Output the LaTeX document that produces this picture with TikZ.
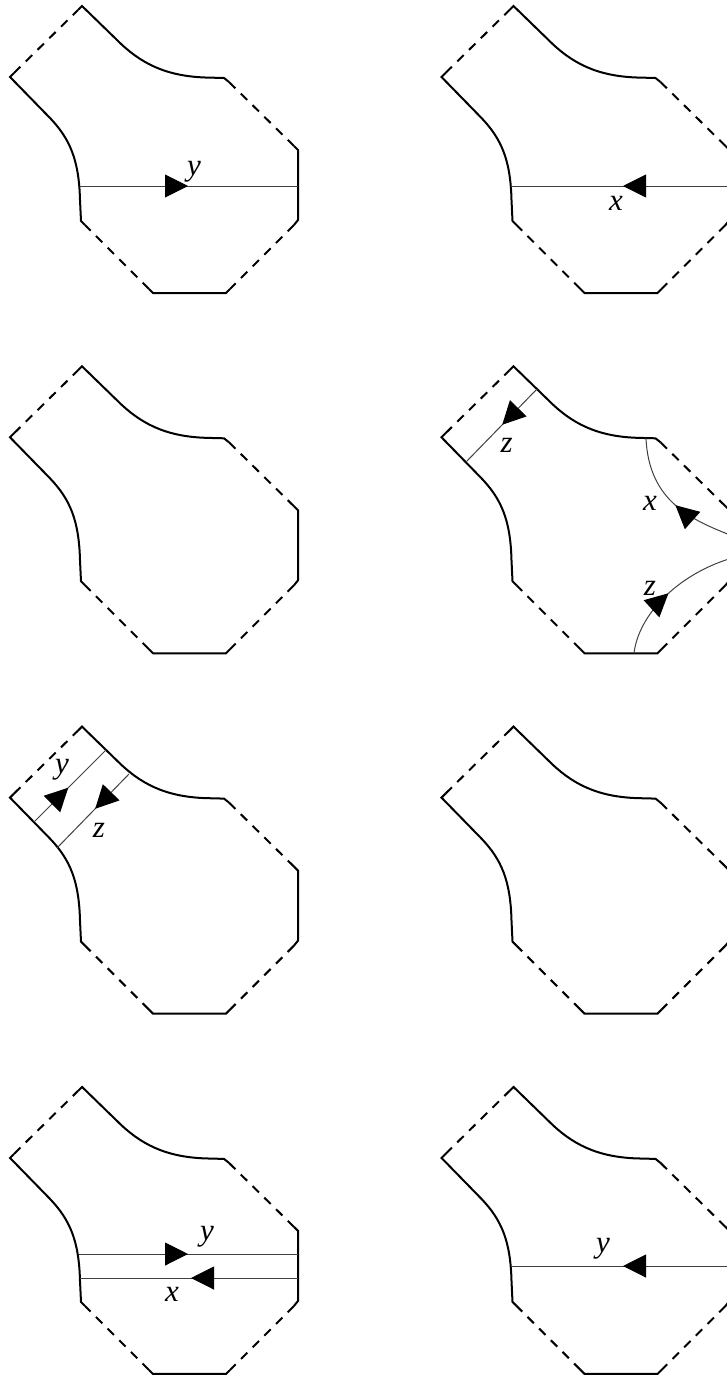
\documentclass[tikz,border=0pt]{standalone}
\usepackage{fontspec}
\setmainfont{Liberation Serif}
\newfontfamily\lblfont{Liberation Serif}
\usetikzlibrary{arrows.meta,decorations.markings}
\tikzset{
  bnd/.style={line width=2pt,line join=miter,black},
  dsh/.style={line width=2pt,black,dash pattern=on 9pt off 7.5pt},
  conn/.style={line width=1pt,black!75},
  arr/.style={postaction={decorate},decoration={markings,mark=at position #1 with {\arrow{Triangle[length=23pt,width=23pt,color=black,fill=black]}}}},
  lbl/.style={anchor=base,inner sep=0pt,font=\lblfont\fontsize{31}{34}\selectfont\itshape}
}
\newcommand{\drawoutline}{%
  \draw[bnd] (78,10) -- (82,6) -- (117,40) .. controls (140,63) and (165,76) .. (205,77.5) -- (224,78) -- (229,82);
  \draw[bnd] (294,146) -- (298,150) -- (298,220) -- (294,225);
  \draw[bnd] (230,289) -- (226,293) -- (153,293) -- (149,289);
  \draw[bnd] (85,225) -- (81,221) -- (80,200) .. controls (79,160) and (70,139) .. (50,118) -- (10,77) -- (14,73);
  \draw[dsh] (14,73) -- (78,10);
  \draw[dsh] (229,82) -- (294,146);
  \draw[dsh] (294,225) -- (230,289);
  \draw[dsh] (149,289) -- (85,225);
}
\begin{document}
\begin{tikzpicture}[x=1pt,y=-1pt]
\useasboundingbox (0,0) rectangle (726,1378);
% panel 1
\begin{scope}
  \drawoutline
  \coordinate (a1) at (79.7,186);
  \coordinate (b1) at (298,186);
  \draw[conn,arr=108.3pt] (a1) -- (b1);
  \node[lbl] (l1) at (194,175) {y};
\end{scope}
% panel 2
\begin{scope}[shift={(431.5,0)}]
  \drawoutline
  \coordinate (a2) at (298,186);
  \coordinate (b2) at (79.7,186);
  \draw[conn,arr=106.5pt] (a2) -- (b2);
  \node[lbl] (l2) at (184.5,210.5) {x};
\end{scope}
% panel 3
\begin{scope}[shift={(0,360.3)}]
  \drawoutline
\end{scope}
% panel 4
\begin{scope}[shift={(431.5,360.3)}]
  \drawoutline
  \coordinate (a4) at (105.5,28.7);
  \coordinate (b4) at (34.5,101.7);
  \draw[conn,arr=0.49] (a4) -- (b4);
  \node[lbl] (l4a) at (75.2,91.7) {z};
  \coordinate (c4) at (298,174.5);
  \coordinate (d4) at (214.5,77.5);
  \draw[conn,arr=0.45] (c4) .. controls (262,160) and (217,142) .. (d4);
  \node[lbl] (l4b) at (218.5,149.7) {x};
  \coordinate (e4) at (202.5,293);
  \coordinate (f4) at (298,198.5);
  \draw[conn,arr=0.5] (e4) .. controls (207,255) and (245,215) .. (f4);
  \node[lbl] (l4c) at (218.5,234.7) {z};
\end{scope}
% panel 5
\begin{scope}[shift={(0,720.6)}]
  \drawoutline
  \coordinate (a5) at (34,101.4);
  \coordinate (b5) at (106,29.4);
  \draw[conn,arr=0.476] (a5) -- (b5);
  \node[lbl] (l5a) at (62,52.4) {y};
  \coordinate (c5) at (129,53.4);
  \coordinate (d5) at (57,127.4);
  \draw[conn,arr=0.47] (c5) -- (d5);
  \node[lbl] (l5b) at (99,116.7) {z};
\end{scope}
% panel 6
\begin{scope}[shift={(431.5,720.6)}]
  \drawoutline
\end{scope}
% panel 7
\begin{scope}[shift={(0,1080.9)}]
  \drawoutline
  \coordinate (a7) at (78.6,173.1);
  \coordinate (b7) at (298,173.1);
  \draw[conn,arr=109.4pt] (a7) -- (b7);
  \node[lbl] (l7a) at (207,160) {y};
  \coordinate (c7) at (298,197.1);
  \coordinate (d7) at (80.1,197.1);
  \draw[conn,arr=107pt] (c7) -- (d7);
  \node[lbl] (l7b) at (172,221) {x};
\end{scope}
% panel 8
\begin{scope}[shift={(431.5,1080.9)}]
  \drawoutline
  \coordinate (a8) at (298,185.1);
  \coordinate (b8) at (79.7,185.1);
  \draw[conn,arr=106.5pt] (a8) -- (b8);
  \node[lbl] (l8) at (171.5,172) {y};
\end{scope}
\end{tikzpicture}
\end{document}
